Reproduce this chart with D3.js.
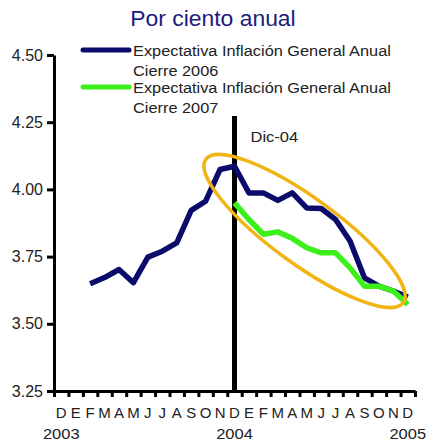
<!DOCTYPE html>
<html>
<head>
<meta charset="utf-8">
<script src="https://cdn.jsdelivr.net/npm/d3@7"></script>
<style>
  body { margin: 0; background: #fff; }
  svg { display: block; font-family: "Liberation Sans", Arial, sans-serif; }
</style>
</head>
<body>
<svg id="chart" width="427" height="442"></svg>
<script>
// month initials, Dec-03 .. Dec-05
const months = ["D","E","F","M","A","M","J","J","A","S","O","N",
                "D","E","F","M","A","M","J","J","A","S","O","N","D"];
const yearLabels = [{ idx: 0, text: "2003" }, { idx: 12, text: "2004" }, { idx: 24, text: "2005" }];
const yTicks = [3.25, 3.50, 3.75, 4.00, 4.25, 4.50];

// Expectativa Inflación General Anual Cierre 2006
const cierre2006 = [null, null, 3.649, 3.672, 3.702, 3.653, 3.748, 3.770, 3.801, 3.922, 3.956, 4.074,
                    4.086, 3.987, 3.987, 3.959, 3.987, 3.931, 3.929, 3.888, 3.808, 3.671, 3.640, 3.622, 3.600];
// Expectativa Inflación General Anual Cierre 2007
const cierre2007 = [null, null, null, null, null, null, null, null, null, null, null, null,
                    3.950, 3.888, 3.833, 3.842, 3.818, 3.783, 3.764, 3.764, 3.708, 3.640, 3.640, 3.622, 3.572];

const series = [
  { name: ["Expectativa Inflación General Anual", "Cierre 2006"], values: cierre2006, color: "#0b0b6b" },
  { name: ["Expectativa Inflación General Anual", "Cierre 2007"], values: cierre2007, color: "#3cf01c" }
];

const markerIdx = 12;   // Dic-04
const svg = d3.select("#chart");
const textColor = "#222";
const stretch = 1.1;    // source text is a bit wide

const x = d3.scaleLinear().domain([0, months.length]).range([54, 415]);
const y = d3.scaleLinear().domain([3.25, 4.5]).range([391, 55]);
const xc = i => x(i + 0.5);

// title
svg.append("text").attr("transform", `translate(213,26) scale(1.04,1)`).attr("text-anchor", "middle")
  .style("font-size", "22px").attr("fill", "#1c1c7c").text("Por ciento anual");

// y axis
const yAxis = svg.append("g").attr("transform", `translate(${x(0)},0)`)
  .call(d3.axisLeft(y).tickValues(yTicks).tickFormat(d3.format(".2f")).tickSize(7).tickSizeOuter(0));
yAxis.select(".domain").attr("stroke", "#000").attr("stroke-width", 3);
yAxis.selectAll(".tick line").attr("stroke", "#000").attr("stroke-width", 3);
yAxis.selectAll(".tick text").attr("x", -11).style("font-size", "16px").attr("fill", textColor)
  .style("font-family", "'Liberation Sans', Arial, sans-serif");

// x axis: tick marks at month boundaries
const xAxis = svg.append("g").attr("transform", `translate(0,${y(3.25)})`)
  .call(d3.axisBottom(x).tickValues(d3.range(months.length + 1)).tickFormat("").tickSize(6).tickSizeOuter(0));
xAxis.select(".domain").attr("stroke", "#000").attr("stroke-width", 3);
xAxis.selectAll(".tick line").attr("stroke", "#000").attr("stroke-width", 3);

// month labels centred in each month
svg.append("g").selectAll("text").data(months).join("text")
  .attr("x", (d, i) => xc(i)).attr("y", 418).attr("text-anchor", "middle")
  .style("font-size", "15px").attr("fill", textColor).text(d => d);

svg.append("g").selectAll("text").data(yearLabels).join("text")
  .attr("transform", d => `translate(${xc(d.idx)},439) scale(${stretch},1)`).attr("text-anchor", "middle")
  .style("font-size", "15px").attr("fill", textColor).text(d => d.text);

// Dic-04 marker
svg.append("line").attr("x1", xc(markerIdx)).attr("x2", xc(markerIdx))
  .attr("y1", 116).attr("y2", y(3.25)).attr("stroke", "#000").attr("stroke-width", 5);
svg.append("text").attr("transform", `translate(${xc(markerIdx) + 16},142) scale(${stretch},1)`)
  .style("font-size", "15px").attr("fill", textColor).text("Dic-04");

// lines
const line = d3.line().defined(d => d != null).x((d, i) => xc(i)).y(d => y(d)).curve(d3.curveLinear);
series.forEach(s => {
  svg.append("path").attr("d", line(s.values)).attr("fill", "none")
    .attr("stroke", s.color).attr("stroke-width", 5.5).attr("stroke-linejoin", "round");
});

// highlight ellipse
const ell = { idx: 17.35, value: 3.845, rx: 122, ry: 33, angle: 36 };
svg.append("ellipse")
  .attr("transform", `translate(${x(ell.idx)},${y(ell.value)}) rotate(${ell.angle})`)
  .attr("rx", ell.rx).attr("ry", ell.ry)
  .attr("fill", "none").attr("stroke", "#f0b414").attr("stroke-width", 3.5);

// legend
const legend = svg.append("g");
series.forEach((s, i) => {
  const ly = 50 + i * 37;
  legend.append("line").attr("x1", 83).attr("x2", 129).attr("y1", ly).attr("y2", ly)
    .attr("stroke", s.color).attr("stroke-width", 5).attr("stroke-linecap", "round");
  s.name.forEach((t, j) => {
    legend.append("text").attr("transform", `translate(133,${ly + 6 + j * 20}) scale(1.09,1)`)
      .style("font-size", "15px").attr("fill", textColor).text(t);
  });
});
</script>
</body>
</html>
